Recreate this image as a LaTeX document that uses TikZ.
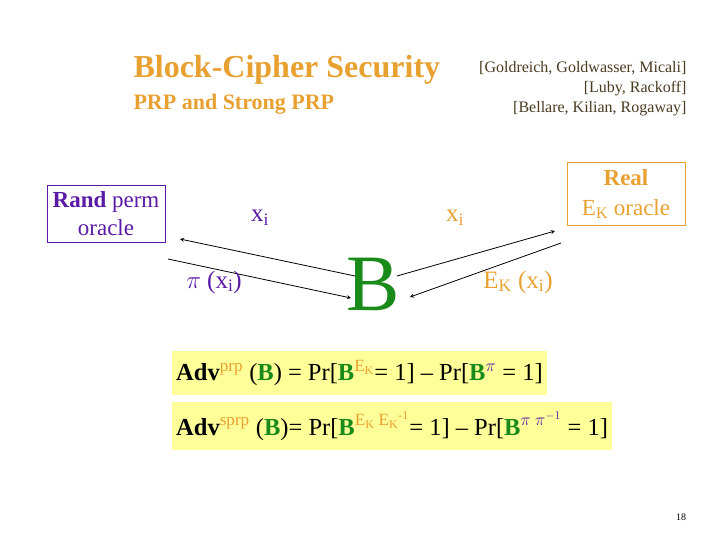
\documentclass[tikz,border=0pt]{standalone}
\usepackage{fontspec}
\setmainfont{Liberation Serif}
\definecolor{org}{HTML}{E8A030}
\definecolor{pur}{HTML}{5A1AA6}
\definecolor{grn}{HTML}{1A8A1A}
\definecolor{ylw}{HTML}{FFFF99}
\definecolor{brn}{HTML}{4A3A20}
\begin{document}
\begin{tikzpicture}[x=1pt,y=-1pt,
  arr/.style={-stealth,thick,black},
  fbox/.style={fill=ylw,anchor=west,inner xsep=4pt,inner ysep=3pt,font=\fontsize{24.5}{26}\selectfont}]
\useasboundingbox (0,0) rectangle (720,540);
\node[org,anchor=west,font=\fontsize{32}{34}\selectfont\bfseries] (t) at (130,70) {Block-Cipher Security};
\node[org,anchor=west,font=\fontsize{22}{24}\selectfont\bfseries] (st) at (130,104) {PRP and Strong PRP};
\node[brn,anchor=north east,align=right,font=\fontsize{16}{20}\selectfont] (ref) at (690,58) {[Goldreich, Goldwasser, Micali]\\ {}[Luby, Rackoff]\\ {}[Bellare, Kilian, Rogaway]};
\node[draw=pur,pur,minimum width=118pt,minimum height=57pt,inner xsep=1pt,align=center,font=\fontsize{23}{28}\selectfont] (rp) at (106,214) {\textbf{Rand} perm\\oracle};
\node[draw=org,org,minimum width=118pt,minimum height=63pt,inner xsep=1pt,align=center,font=\fontsize{23}{30}\selectfont] (ro) at (626,194) {\textbf{Real}\\E$_{\mathrm{K}}$ oracle};
\node[grn,font=\fontsize{80}{80}\selectfont] (B) at (373,284) {B};
\coordinate (a1) at (355,276); \coordinate (a2) at (180,239);
\coordinate (b1) at (168,259); \coordinate (b2) at (351,298);
\coordinate (c1) at (397,276); \coordinate (c2) at (555,231);
\coordinate (d1) at (561,243); \coordinate (d2) at (410,297);
\draw[arr] (a1) -- (a2);
\draw[arr] (b1) -- (b2);
\draw[arr] (c1) -- (c2);
\draw[arr] (d1) -- (d2);
\node[pur,font=\fontsize{25}{26}\selectfont] (l1) at (260,218) {x$_{\mathrm{i}}$};
\node[pur,font=\fontsize{25}{26}\selectfont] (l2) at (214,282) {$\pi$ (x$_{\mathrm{i}}$)};
\node[org,font=\fontsize{25}{26}\selectfont] (l3) at (455,218) {x$_{\mathrm{i}}$};
\node[org,font=\fontsize{25}{26}\selectfont] (l4) at (518,282) {E$_{\mathrm{K}}$ (x$_{\mathrm{i}}$)};
\node[fbox,minimum height=44pt] (f1) at (172,373) {\textbf{Adv}\textsuperscript{\textcolor{org}{prp}} (\textbf{\textcolor{grn}{B}}) = Pr[\textbf{\textcolor{grn}{B}}\textsuperscript{\textcolor{org}{E\textsubscript{K}}}= 1] -- Pr[\textbf{\textcolor{grn}{B}}\textsuperscript{\textcolor{pur}{$\pi$}} = 1]};
\node[fbox,minimum height=48pt] (f2) at (172,426) {\textbf{Adv}\textsuperscript{\textcolor{org}{sprp}} (\textbf{\textcolor{grn}{B}})= Pr[\textbf{\textcolor{grn}{B}}\textsuperscript{\textcolor{org}{E\textsubscript{K} E\textsubscript{K}\textsuperscript{-1}}}= 1] -- Pr[\textbf{\textcolor{grn}{B}}\textsuperscript{\textcolor{pur}{$\pi$ $\pi^{-1}$}} = 1]};
\node[font=\fontsize{10}{12}\selectfont] (pg) at (681,517) {18};
\end{tikzpicture}
\end{document}
